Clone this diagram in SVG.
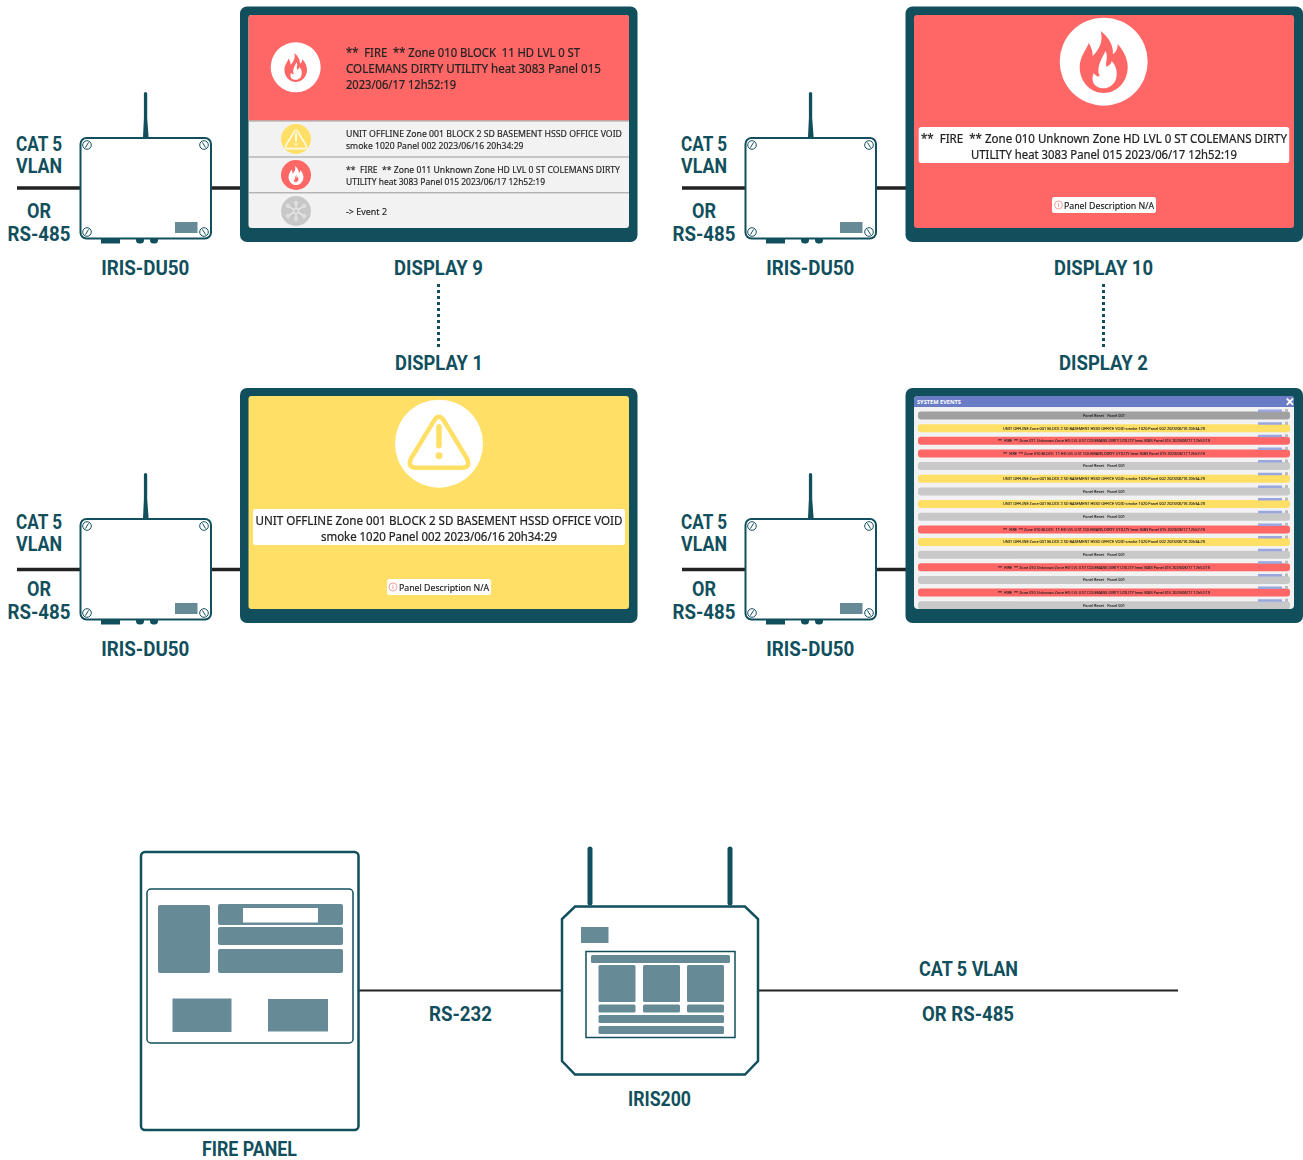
<svg xmlns="http://www.w3.org/2000/svg" width="1303" height="1160" viewBox="0 0 1303 1160">
<style>
.lb{font-family:Roboto,"Liberation Sans",sans-serif;font-weight:700;font-size:21px;fill:#114f5d;text-anchor:middle}
.t{font-family:"Noto Sans","Open Sans",sans-serif;fill:#222;stroke:#222;stroke-width:.22px;white-space:pre}
.m{font-size:12px}.s{font-size:9px;stroke-width:.15px}.p{font-size:9.500px;stroke-width:.18px}.c{text-anchor:middle}
.r{font-family:"Noto Sans",sans-serif;font-size:3.600px;fill:#222;stroke:#222;stroke-width:.08px;text-anchor:middle;white-space:pre}
.frame{fill:#114f5d}
.g{fill:#668b96}
.ln{stroke:#222;fill:none}
.o{fill:#fff;stroke:#114f5d}
.gr{fill:#c8c8c8}.dg{fill:#a0a0a0}.ye{fill:#ffdf66}.re{fill:#ff6666}
</style>
<defs>
<filter id="soft" x="-2%" y="-2%" width="104%" height="104%"><feGaussianBlur stdDeviation="0.35"/></filter>
<filter id="soft2" x="-2%" y="-2%" width="104%" height="104%"><feGaussianBlur stdDeviation="0.3"/></filter>
<clipPath id="scr"><rect x="914" y="396" width="380" height="213" rx="4"/></clipPath>
<path id="flo" d="M-3,-31C6,-24 10,-15 9,-8C13,-10 14,-14 14,-18C21,-10 24,-2 24,5C24,20 13,31 0,31C-13,31-24,20-24,5C-24,-5-18,-11-15,-19C-12,-14-11,-10-11,-6C-5,-12 0,-20-3,-31Z"/>
<path id="fli" d="M2,-11C5,-4 1,0 3,5C6,3 8,1 8,-1C15,6 16,22 3,26C-8,28-14,20-10,11C-8,14-6,15-4,14C-8,6-2,-4 2,-11Z"/>
<g id="flame"><use href="#flo" fill="#ff6666"/><use href="#fli" fill="#fff"/></g>
<g id="flame-white"><use href="#flo" fill="#fff"/><use href="#fli" fill="#ff6666" transform="scale(.62) translate(0 8)"/></g>
<g id="warn">
<path d="M-5,-23Q0,-31 5,-23L28,15Q32,24 23,24H-23Q-32,24-28,15Z" fill="none" stroke-width="4.500" stroke-linejoin="round"/>
<path d="M0,-17V2" fill="none" stroke-width="5.500" stroke-linecap="round"/>
<circle cx="0" cy="12" r="3.400" stroke="none"/>
</g>
<g id="screw">
<circle r="4.300" fill="#fff" stroke="#114f5d" stroke-width="1"/>
<path d="M-1.600,2.600L1.600,-2.600" stroke="#114f5d" stroke-width="1"/>
</g>
<g id="du50">
<path d="M143,137L143.900,118V93.600A1.650,1.650 0 0 1 147.200,93.600V118L148.600,137Z" class="frame"/>
<rect x="101" y="236" width="19" height="7.500" class="frame"/>
<rect x="136" y="234" width="8" height="9.500" rx="3.500" class="frame"/>
<rect x="150" y="234" width="8" height="9.500" rx="3.500" class="frame"/>
<rect x="80.500" y="138" width="130.500" height="100.500" rx="6" class="o" stroke-width="2"/>
<use href="#screw" x="87" y="145"/>
<use href="#screw" transform="translate(204 145) scale(-1 1)"/>
<use href="#screw" x="87" y="232"/>
<use href="#screw" transform="translate(204 232) scale(-1 1)"/>
<rect x="175" y="222" width="22.500" height="11" class="g"/>
</g>
<g id="cablelabels">
<text class="lb" x="39" y="151" textLength="46" lengthAdjust="spacingAndGlyphs">CAT 5</text>
<text class="lb" x="39" y="173" textLength="46" lengthAdjust="spacingAndGlyphs">VLAN</text>
<text class="lb" x="39" y="218" textLength="24" lengthAdjust="spacingAndGlyphs">OR</text>
<text class="lb" x="39" y="241" textLength="63" lengthAdjust="spacingAndGlyphs">RS-485</text>
</g>
</defs>

<g id="connectors">
<path class="ln" stroke-width="3.500" d="M17,188H81M211,188H241M682,188H746M876,188H906M17,569.500H81M211,569.500H241M682,569.500H746M876,569.500H906"/>
<path class="ln" stroke-width="2" d="M358,990.500H562M758,990.500H1178"/>
<path d="M438.500,284V349M1103.500,284V349" fill="none" stroke="#114f5d" stroke-width="3" stroke-dasharray="3 3"/>
</g>

<g id="labels-row1">
<use href="#cablelabels"/>
<use href="#cablelabels" x="665"/>
</g>
<g id="labels-row2">
<use href="#cablelabels" y="378"/>
<use href="#cablelabels" x="665" y="378"/>
</g>

<g id="du50-1"><use href="#du50"/><text class="lb" x="145.300" y="275" textLength="88" lengthAdjust="spacingAndGlyphs">IRIS-DU50</text></g>
<g id="du50-2"><use href="#du50" x="665"/><text class="lb" x="810.300" y="275" textLength="88" lengthAdjust="spacingAndGlyphs">IRIS-DU50</text></g>
<g id="du50-3"><use href="#du50" y="381"/><text class="lb" x="145.300" y="656" textLength="88" lengthAdjust="spacingAndGlyphs">IRIS-DU50</text></g>
<g id="du50-4"><use href="#du50" x="665" y="381"/><text class="lb" x="810.300" y="656" textLength="88" lengthAdjust="spacingAndGlyphs">IRIS-DU50</text></g>

<g id="display-9">
<rect x="240" y="6.500" width="397.500" height="235.500" rx="7" class="frame"/>
<rect x="248.500" y="15" width="380.500" height="213" rx="3" fill="#f2f2f2"/>
<path d="M248.500,120.500V18a3,3 0 0 1 3-3H626a3,3 0 0 1 3,3V120.500Z" class="re"/>
<path d="M248.500,121H629M248.500,157H629M248.500,192.800H629" stroke="#999" stroke-width="1"/>
<g filter="url(#soft)">
<circle cx="295.700" cy="67.300" r="25" fill="#fff"/>
<use href="#flame" transform="translate(295.700 67.500) scale(.47)"/>
<circle cx="296" cy="139" r="15" class="ye"/>
<use href="#warn" transform="translate(296 140) scale(.36)" fill="#fff" stroke="#fff" opacity=".85"/>
<circle cx="296" cy="175" r="15" class="re"/>
<use href="#flame-white" transform="translate(296 175.500) scale(.31)"/>
<circle cx="296" cy="211" r="15" fill="#c8c8c8"/>
<path d="M296,211L296,203M296,211L304,206M296,211L304,216M296,211L296,219M296,211L288,216M288,206L296,211" stroke="#eee" stroke-width="1.200"/>
<g fill="#c8c8c8" stroke="#eee" stroke-width="1">
<circle cx="296" cy="211" r="2.500"/><circle cx="296" cy="203" r="1.500"/><circle cx="304" cy="206" r="1.500"/><circle cx="304" cy="216" r="1.500"/><circle cx="296" cy="219" r="1.500"/><circle cx="288" cy="216" r="1.500"/><circle cx="288" cy="206" r="1.500"/>
</g>
</g>
<g filter="url(#soft2)">
<text class="t m" x="346" y="56.500" textLength="234" lengthAdjust="spacingAndGlyphs">**  FIRE  ** Zone 010 BLOCK  11 HD LVL 0 ST</text>
<text class="t m" x="346" y="72.500" textLength="255" lengthAdjust="spacingAndGlyphs">COLEMANS DIRTY UTILITY heat 3083 Panel 015</text>
<text class="t m" x="346" y="88.500" textLength="110" lengthAdjust="spacingAndGlyphs">2023/06/17 12h52:19</text>
<text class="t s" x="346" y="136.500" textLength="276" lengthAdjust="spacingAndGlyphs">UNIT OFFLINE Zone 001 BLOCK 2 SD BASEMENT HSSD OFFICE VOID</text>
<text class="t s" x="346" y="148.500" textLength="177.500" lengthAdjust="spacingAndGlyphs">smoke 1020 Panel 002 2023/06/16 20h34:29</text>
<text class="t s" x="346" y="173" textLength="274" lengthAdjust="spacingAndGlyphs">**  FIRE  ** Zone 011 Unknown Zone HD LVL 0 ST COLEMANS DIRTY</text>
<text class="t s" x="346" y="185" textLength="199" lengthAdjust="spacingAndGlyphs">UTILITY heat 3083 Panel 015 2023/06/17 12h52:19</text>
<text class="t s" x="346" y="215" textLength="41" lengthAdjust="spacingAndGlyphs">-&gt; Event 2</text>
</g>
<text class="lb" x="438.500" y="275" textLength="89" lengthAdjust="spacingAndGlyphs">DISPLAY 9</text>
</g>

<g id="display-10">
<rect x="905.500" y="6.500" width="397.500" height="235.500" rx="7" class="frame"/>
<rect x="914" y="15" width="380" height="213" rx="3" class="re"/>
<g filter="url(#soft)">
<circle cx="1103.700" cy="61.700" r="44" fill="#fff"/>
<use href="#flame" x="1103.700" y="62"/>
</g>
<rect x="918.700" y="127" width="370.500" height="36" rx="2.500" fill="#fff"/>
<rect x="1052" y="197" width="104" height="16" rx="2.500" fill="#fff"/>
<g filter="url(#soft2)">
<text class="t m c" x="1104" y="142.500" textLength="366" lengthAdjust="spacingAndGlyphs">**  FIRE  ** Zone 010 Unknown Zone HD LVL 0 ST COLEMANS DIRTY</text>
<text class="t m c" x="1104" y="158.500" textLength="266" lengthAdjust="spacingAndGlyphs">UTILITY heat 3083 Panel 015 2023/06/17 12h52:19</text>
<circle cx="1058.500" cy="205" r="4" fill="none" stroke="#f08a8a" stroke-width=".8"/>
<path d="M1058.500,203V207" stroke="#f08a8a" stroke-width=".8"/>
<text class="t p" x="1064" y="209" textLength="90" lengthAdjust="spacingAndGlyphs">Panel Description N/A</text>
</g>
<text class="lb" x="1103.500" y="275" textLength="99" lengthAdjust="spacingAndGlyphs">DISPLAY 10</text>
</g>

<g id="display-1">
<text class="lb" x="439" y="370" textLength="88" lengthAdjust="spacingAndGlyphs">DISPLAY 1</text>
<rect x="240" y="388" width="397.500" height="235" rx="7" class="frame"/>
<rect x="248.500" y="396" width="380.500" height="213" rx="3" class="ye"/>
<g filter="url(#soft)">
<circle cx="439" cy="443.700" r="44" fill="#fff"/>
<use href="#warn" transform="translate(439 443.700)" fill="#ffdf66" stroke="#ffdf66"/>
</g>
<rect x="253" y="509" width="372" height="36" rx="2.500" fill="#fff"/>
<rect x="387" y="579" width="104" height="16" rx="2.500" fill="#fff"/>
<g filter="url(#soft2)">
<text class="t m c" x="439" y="524.500" textLength="367" lengthAdjust="spacingAndGlyphs">UNIT OFFLINE Zone 001 BLOCK 2 SD BASEMENT HSSD OFFICE VOID</text>
<text class="t m c" x="439" y="540.500" textLength="236" lengthAdjust="spacingAndGlyphs">smoke 1020 Panel 002 2023/06/16 20h34:29</text>
<circle cx="393" cy="587" r="4" fill="none" stroke="#f08a8a" stroke-width=".8"/>
<path d="M393,585V589" stroke="#f08a8a" stroke-width=".8"/>
<text class="t p" x="399" y="591" textLength="90" lengthAdjust="spacingAndGlyphs">Panel Description N/A</text>
</g>
</g>

<g id="display-2">
<text class="lb" x="1103.500" y="370" textLength="89" lengthAdjust="spacingAndGlyphs">DISPLAY 2</text>
<rect x="905.500" y="388" width="397.500" height="235" rx="7" class="frame"/>
<g clip-path="url(#scr)">
<rect x="914" y="396" width="380" height="213" fill="#f2f2f2"/>
<rect x="914" y="396" width="380" height="11" fill="#6b7cc7"/>
<text x="917" y="403.600" font-family="Noto Sans,sans-serif" font-size="5" font-weight="700" fill="#fff" textLength="44" lengthAdjust="spacingAndGlyphs">SYSTEM EVENTS</text>
<path d="M1286.800,398.500L1293,404.800M1293,398.500L1286.800,404.800" stroke="#fff" stroke-width="1.800"/>
<g filter="url(#soft2)">
<rect class="dg" x="918" y="411.500" width="372" height="8" rx="3"/>
<rect class="ye" x="918" y="424.200" width="372" height="8" rx="3"/>
<rect class="re" x="918" y="436.800" width="372" height="8" rx="3"/>
<rect class="re" x="918" y="449.500" width="372" height="8" rx="3"/>
<rect class="gr" x="918" y="462.100" width="372" height="8" rx="3"/>
<rect class="ye" x="918" y="474.800" width="372" height="8" rx="3"/>
<rect class="gr" x="918" y="487.400" width="372" height="8" rx="3"/>
<rect class="ye" x="918" y="500.100" width="372" height="8" rx="3"/>
<rect class="gr" x="918" y="512.700" width="372" height="8" rx="3"/>
<rect class="re" x="918" y="525.400" width="372" height="8" rx="3"/>
<rect class="ye" x="918" y="538" width="372" height="8" rx="3"/>
<rect class="gr" x="918" y="550.700" width="372" height="8" rx="3"/>
<rect class="re" x="918" y="563.300" width="372" height="8" rx="3"/>
<rect class="gr" x="918" y="576" width="372" height="8" rx="3"/>
<rect class="re" x="918" y="588.600" width="372" height="8" rx="3"/>
<rect class="gr" x="918" y="601.300" width="372" height="8" rx="3"/>
<text class="r" x="1104" y="416.800" textLength="42" lengthAdjust="spacingAndGlyphs">Panel Reset   Panel 001</text>
<text class="r" x="1104" y="429.500" textLength="202" lengthAdjust="spacingAndGlyphs">UNIT OFFLINE Zone 001 BLOCK 2 SD BASEMENT HSSD OFFICE VOID smoke 1020 Panel 002 2023/06/16 20h34:29</text>
<text class="r" x="1104" y="442.100" textLength="212" lengthAdjust="spacingAndGlyphs">**  FIRE  ** Zone 011 Unknown Zone HD LVL 0 ST COLEMANS DIRTY UTILITY heat 3083 Panel 015 2023/06/17 12h52:19</text>
<text class="r" x="1104" y="454.800" textLength="202" lengthAdjust="spacingAndGlyphs">**  FIRE  ** Zone 010 BLOCK  11 HD LVL 0 ST COLEMANS DIRTY UTILITY heat 3083 Panel 015 2023/06/17 12h52:19</text>
<text class="r" x="1104" y="467.400" textLength="42" lengthAdjust="spacingAndGlyphs">Panel Reset   Panel 001</text>
<text class="r" x="1104" y="480.100" textLength="202" lengthAdjust="spacingAndGlyphs">UNIT OFFLINE Zone 001 BLOCK 2 SD BASEMENT HSSD OFFICE VOID smoke 1020 Panel 002 2023/06/16 20h34:29</text>
<text class="r" x="1104" y="492.700" textLength="42" lengthAdjust="spacingAndGlyphs">Panel Reset   Panel 001</text>
<text class="r" x="1104" y="505.400" textLength="202" lengthAdjust="spacingAndGlyphs">UNIT OFFLINE Zone 001 BLOCK 2 SD BASEMENT HSSD OFFICE VOID smoke 1020 Panel 002 2023/06/16 20h34:29</text>
<text class="r" x="1104" y="518" textLength="42" lengthAdjust="spacingAndGlyphs">Panel Reset   Panel 001</text>
<text class="r" x="1104" y="530.700" textLength="202" lengthAdjust="spacingAndGlyphs">**  FIRE  ** Zone 010 BLOCK  11 HD LVL 0 ST COLEMANS DIRTY UTILITY heat 3083 Panel 015 2023/06/17 12h52:19</text>
<text class="r" x="1104" y="543.300" textLength="202" lengthAdjust="spacingAndGlyphs">UNIT OFFLINE Zone 001 BLOCK 2 SD BASEMENT HSSD OFFICE VOID smoke 1020 Panel 002 2023/06/16 20h34:29</text>
<text class="r" x="1104" y="556" textLength="42" lengthAdjust="spacingAndGlyphs">Panel Reset   Panel 001</text>
<text class="r" x="1104" y="568.600" textLength="212" lengthAdjust="spacingAndGlyphs">**  FIRE  ** Zone 010 Unknown Zone HD LVL 0 ST COLEMANS DIRTY UTILITY heat 3083 Panel 015 2023/06/17 12h52:19</text>
<text class="r" x="1104" y="581.300" textLength="42" lengthAdjust="spacingAndGlyphs">Panel Reset   Panel 001</text>
<text class="r" x="1104" y="593.900" textLength="212" lengthAdjust="spacingAndGlyphs">**  FIRE  ** Zone 010 Unknown Zone HD LVL 0 ST COLEMANS DIRTY UTILITY heat 3083 Panel 015 2023/06/17 12h52:19</text>
<text class="r" x="1104" y="606.600" textLength="42" lengthAdjust="spacingAndGlyphs">Panel Reset   Panel 001</text>
<path fill="#9aa6e0" d="M1258,409.500h24v2.500h-24zM1258,422.200h24v2.500h-24zM1258,434.800h24v2.500h-24zM1258,447.500h24v2.500h-24zM1258,460.100h24v2.500h-24zM1258,472.800h24v2.500h-24zM1258,485.400h24v2.500h-24zM1258,498.100h24v2.500h-24zM1258,510.700h24v2.500h-24zM1258,523.400h24v2.500h-24zM1258,536h24v2.500h-24zM1258,548.700h24v2.500h-24zM1258,561.300h24v2.500h-24zM1258,574h24v2.500h-24zM1258,586.600h24v2.500h-24zM1258,599.300h24v2.500h-24z"/>
<path fill="#bbb" d="M1285,409h3v3h-3zM1285,421.700h3v3h-3zM1285,434.300h3v3h-3zM1285,447h3v3h-3zM1285,459.600h3v3h-3zM1285,472.300h3v3h-3zM1285,484.900h3v3h-3zM1285,497.600h3v3h-3zM1285,510.200h3v3h-3zM1285,522.900h3v3h-3zM1285,535.500h3v3h-3zM1285,548.200h3v3h-3zM1285,560.800h3v3h-3zM1285,573.500h3v3h-3zM1285,586.100h3v3h-3zM1285,598.800h3v3h-3z"/>
</g>
</g>
</g>

<g id="fire-panel">
<rect x="141" y="852" width="217.500" height="278" rx="4" class="o" stroke-width="2.500"/>
<rect x="147" y="889" width="206" height="154" rx="4" class="o" stroke-width="1.500"/>
<rect x="158" y="905" width="52" height="68" rx="2" class="g"/>
<rect x="218" y="904" width="125" height="21" rx="2" class="g"/>
<rect x="243" y="908" width="75" height="14.500" fill="#fff"/>
<rect x="218" y="927" width="125" height="18" rx="2" class="g"/>
<rect x="218" y="949" width="125" height="24" rx="2" class="g"/>
<rect x="172.500" y="998.500" width="59" height="33.500" class="g"/>
<rect x="268" y="999" width="60" height="32.500" class="g"/>
<text class="lb" x="249.500" y="1156" textLength="95" lengthAdjust="spacingAndGlyphs">FIRE PANEL</text>
</g>

<g id="iris200">
<path d="M590,849V903M730,849V903" stroke="#114f5d" stroke-width="5" stroke-linecap="round" fill="none"/>
<path d="M575,906.500H745L758,919V1061L745,1074.500H575L562,1061V919Z" class="o" stroke-width="2.500"/>
<rect x="581" y="927" width="27.500" height="16" class="g"/>
<rect x="586" y="951.500" width="149" height="86" fill="#fff" stroke="#114f5d" stroke-width="1.500"/>
<rect x="591" y="955" width="139" height="8" rx="1.500" class="g"/>
<rect x="598.500" y="965" width="37" height="37" rx="1.500" class="g"/>
<rect x="643" y="965" width="37" height="37" rx="1.500" class="g"/>
<rect x="687" y="965" width="37" height="37" rx="1.500" class="g"/>
<rect x="598.500" y="1004.500" width="37" height="8" rx="1.500" class="g"/>
<rect x="643" y="1004.500" width="37" height="8" rx="1.500" class="g"/>
<rect x="687" y="1004.500" width="37" height="8" rx="1.500" class="g"/>
<rect x="598.500" y="1015" width="125.500" height="8" rx="1.500" class="g"/>
<rect x="598.500" y="1026" width="125.500" height="8" rx="1.500" class="g"/>
<text class="lb" x="659.500" y="1106" textLength="63" lengthAdjust="spacingAndGlyphs">IRIS200</text>
</g>

<g id="link-labels">
<text class="lb" x="460.500" y="1021" textLength="63" lengthAdjust="spacingAndGlyphs">RS-232</text>
<text class="lb" x="968.500" y="976" textLength="99" lengthAdjust="spacingAndGlyphs">CAT 5 VLAN</text>
<text class="lb" x="968" y="1021" textLength="92" lengthAdjust="spacingAndGlyphs">OR RS-485</text>
</g>
</svg>
